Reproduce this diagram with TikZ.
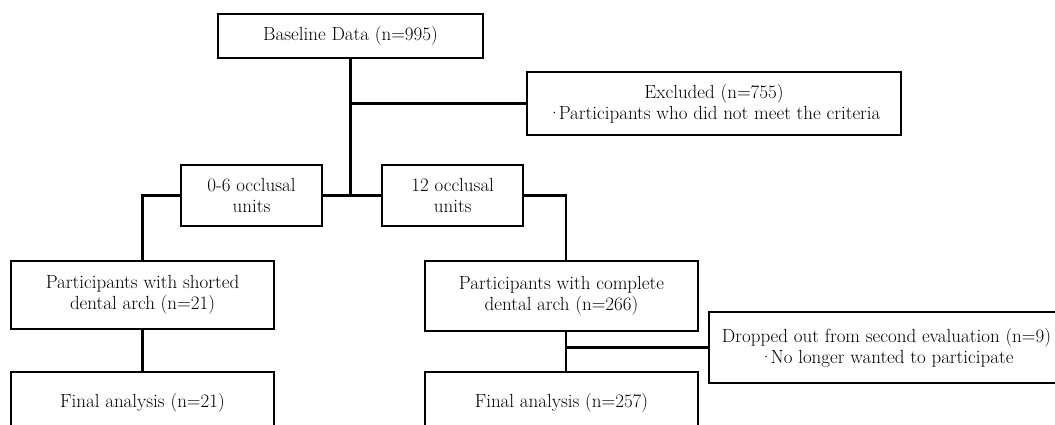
\documentclass[tikz,border=0pt]{standalone}
\usepackage{fontspec}
\usepackage{tikz}
\usetikzlibrary{positioning}

\begin{document}
\begin{tikzpicture}[
        x = 1pt, y = 1pt,
        Box/.style = {rectangle, draw = black, line width = 2.2pt, inner sep = 0, align = center, font = \fontsize{19}{21}\selectfont},
        % 
        Link/.style = {-, line width = 2.2pt},
    ]
        \useasboundingbox (0,0) rectangle (1055,-425);
        \clip (0,0) rectangle (1055,-425);

        % Baseline
        \node[Box, minimum width = 265pt, minimum height = 44pt] (Baseline) at (350.5,-36) {Baseline Data (n=995)};
        \node[Box, minimum width = 374pt, minimum height = 63pt] (Excluded) at (714,-103.5) {Excluded (n=755)\\·\kern-2.5pt Participants who did not meet the criteria};

        % Occlusal units
        \node[Box, minimum width = 141pt, minimum height = 61pt] (OccLow) at (251.5,-195.5) {0-6 occlusal\\units};
        \node[Box, minimum width = 141pt, minimum height = 61pt] (OccFull) [right = 58pt of OccLow] {12 occlusal\\units};

        % Groups
        \node[Box, minimum width = 263pt, minimum height = 68pt] (Shorted) at (142.5,-295) {Participants with shorted\\dental arch (n=21)};
        \node[Box, minimum width = 273pt, minimum height = 70pt] (Complete) at (561.5,-296) {Participants with complete\\dental arch (n=266)};
        \node[Box, minimum width = 355pt, minimum height = 71pt] (Dropped) at (886.5,-347.5) {Dropped out from second evaluation (n=9)\\·\kern-2.5pt No longer wanted to participate};

        % Final analysis
        \node[Box, minimum width = 263pt, minimum height = 62pt] (FinalShort) [below = 41pt of Shorted] {Final analysis (n=21)};
        \node[Box, minimum width = 273pt, minimum height = 62pt] (FinalComp) [below = 39pt of Complete] {Final analysis (n=257)};

        % Lines baseline
        \draw[Link] (Baseline.south) -- (Baseline.south |- OccLow.east);
        \draw[Link] (Baseline.south |- Excluded.west) -- (Excluded.west);
        \draw[Link] (OccLow.east) -- (OccFull.west);

        % Lines groups
        \draw[Link] (OccLow.west) -| (Shorted.north);
        \draw[Link] (OccFull.east) -| ([xshift=4.5pt]Complete.north);
        \draw[Link] (Shorted.south) -- (FinalShort.north);
        \draw[Link] ([xshift=4.5pt]Complete.south) -- ([xshift=4.5pt]FinalComp.north);
        \draw[Link] ([xshift=4.5pt]Complete.south |- Dropped.west) -- (Dropped.west);

    \end{tikzpicture}
\end{document}
